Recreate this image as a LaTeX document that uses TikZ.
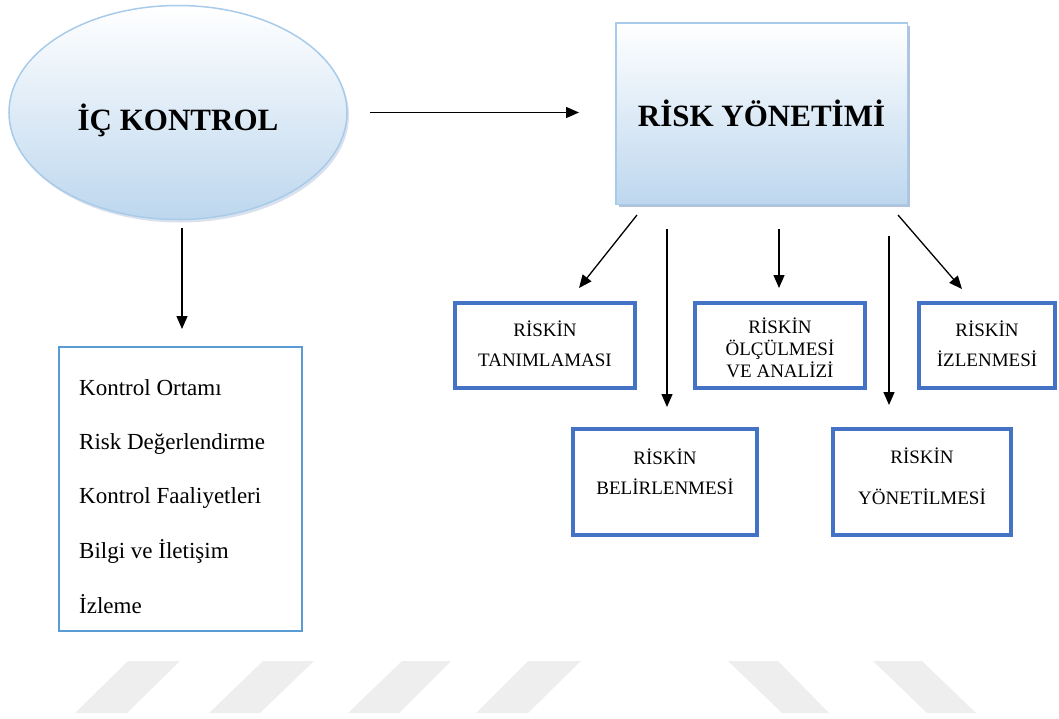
\documentclass[tikz,border=0pt]{standalone}
\usepackage{fontspec}
\setmainfont{Liberation Serif}
\usetikzlibrary{arrows.meta,shapes.geometric,shadows,calc}
\definecolor{lblue}{HTML}{BDD7EE}
\definecolor{eborder}{HTML}{A9CBEA}
\definecolor{sblue}{HTML}{4472C4}
\definecolor{kblue}{HTML}{5B9BD5}
\definecolor{wm}{HTML}{EEEEEE}
\definecolor{shadowc}{HTML}{8FAACB}
\newcommand{\shiftbox}[2]{\raisebox{#1}[\height][\depth]{#2}}
\begin{document}
\begin{tikzpicture}[x=1pt,y=-1pt,
  arr/.style={-{Triangle[length=13pt,width=11pt]}, line width=1.3pt, black},
  sbox/.style={rectangle, draw=sblue, line width=4pt, inner sep=0pt},
  stext/.style={font=\fontsize{19}{30}\selectfont},
  ltext/.style={font=\fontsize{23}{26}\selectfont, anchor=base west, inner sep=0pt},
  wmark/.style={fill=wm, draw=none}]
\useasboundingbox (0,0) rectangle (1059,718);
% watermark
\fill[wmark] (128,661) -- (180,661) -- (127,713) -- (75,713) -- cycle;
\fill[wmark] (263,661) -- (314,661) -- (260,713) -- (209,713) -- cycle;
\fill[wmark] (402,661) -- (451,661) -- (399,713) -- (348,713) -- cycle;
\fill[wmark] (528,661) -- (581,661) -- (528,713) -- (476,713) -- cycle;
\fill[wmark] (728,661) -- (778,661) -- (829,713) -- (782,713) -- cycle;
\fill[wmark] (873,661) -- (922,661) -- (976,713) -- (927,713) -- cycle;
% main shapes
\node[ellipse, draw=eborder, line width=1.5pt, top color=white, bottom color=lblue,
      minimum width=338pt, minimum height=214pt, inner sep=0pt,
      drop shadow={shadow xshift=2pt, shadow yshift=-3pt, fill=shadowc, opacity=0.35},
      font=\fontsize{31}{36}\selectfont\bfseries] (ic) at (178,112.5) {\shiftbox{-8pt}{İÇ KONTROL}};
\node[rectangle, draw=eborder, line width=1.5pt, top color=white, bottom color=lblue,
      minimum width=291.5pt, minimum height=181.5pt, inner sep=0pt,
      drop shadow={shadow xshift=3pt, shadow yshift=-3pt, fill=shadowc, opacity=0.7},
      font=\fontsize{31}{36}\selectfont\bfseries] (ry) at (761.5,113.5) {RİSK YÖNETİMİ};
% left list box
\node[rectangle, draw=kblue, line width=2pt, minimum width=243pt, minimum height=284pt] (ikb) at (180.5,489) {};
\node[ltext] (k1) at (79,395) {Kontrol Ortamı};
\node[ltext] (k2) at (79,449) {Risk Değerlendirme};
\node[ltext] (k3) at (79,503) {Kontrol Faaliyetleri};
\node[ltext] (k4) at (79,558) {Bilgi ve İletişim};
\node[ltext] (k5) at (79,613) {İzleme};
% small boxes
\node[sbox, stext, minimum width=180pt, minimum height=85pt] (tan) at (545,345.5)
  {\begin{tabular}{@{}c@{}}RİSKİN\\TANIMLAMASI\end{tabular}};
\node[sbox, minimum width=170pt, minimum height=85pt, font=\fontsize{19}{20}\selectfont] (olc) at (780,345.5)
  {\shiftbox{-5pt}{\begin{tabular}{@{}c@{}}RİSKİN\\ÖLÇÜLMESİ\\VE ANALİZİ\end{tabular}}};
\node[sbox, stext, minimum width=136pt, minimum height=85pt] (izl) at (987,345.5)
  {\begin{tabular}{@{}c@{}}RİSKİN\\İZLENMESİ\end{tabular}};
\node[sbox, stext, minimum width=184pt, minimum height=106pt] (bel) at (665,482)
  {\shiftbox{9pt}{\begin{tabular}{@{}c@{}}RİSKİN\\BELİRLENMESİ\end{tabular}}};
\node[sbox, stext, minimum width=178pt, minimum height=106pt] (yon) at (922,482)
  {\shiftbox{4pt}{\begin{tabular}{@{}c@{}}RİSKİN\\[11pt]YÖNETİLMESİ\end{tabular}}};
% connectors
\draw[arr, shorten <=22pt, shorten >=36pt] (ic.east) -- (ry.west |- ic.east);
\coordinate (d1) at (182,228);
\draw[arr, shorten >=17pt] (d1) -- (d1 |- ikb.north);
\coordinate (a1s) at (637,215); \coordinate (a1e) at (579,288);
\draw[arr] (a1s) -- (a1e);
\coordinate (a2s) at (667,229); \coordinate (a2e) at (667,407);
\draw[arr] (a2s) -- (a2e);
\coordinate (a3s) at (779,229); \coordinate (a3e) at (779,288);
\draw[arr] (a3s) -- (a3e);
\coordinate (a4s) at (889,236); \coordinate (a4e) at (889,405);
\draw[arr] (a4s) -- (a4e);
\coordinate (a5s) at (898,215); \coordinate (a5e) at (962,289);
\draw[arr] (a5s) -- (a5e);
\end{tikzpicture}
\end{document}
